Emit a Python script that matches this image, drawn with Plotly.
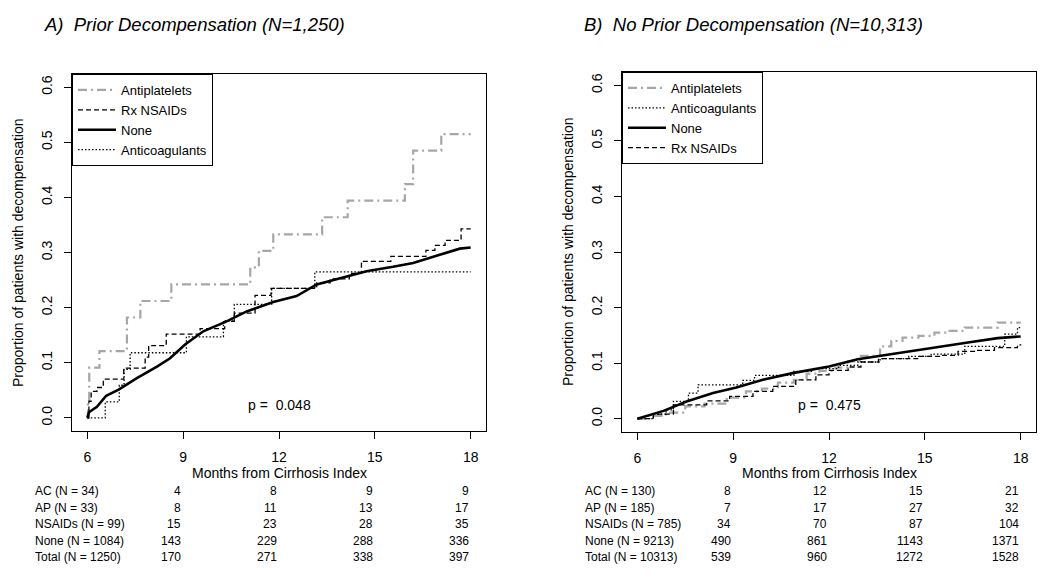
import plotly.graph_objects as go

# ---------------- data ----------------
months_ticks = [6, 9, 12, 15, 18]
y_ticks = [0.0, 0.1, 0.2, 0.3, 0.4, 0.5, 0.6]
y_ticktext = ["0.0", "0.1", "0.2", "0.3", "0.4", "0.5", "0.6"]

# Panel A: Prior decompensation
A_ap_t = [6.0, 6.02, 6.06, 6.38, 7.24, 7.66, 8.63, 11.1, 11.37, 11.82, 13.35, 14.15, 15.94, 16.2, 17.08, 18.0]
A_ap_v = [0.0, 0.03, 0.091, 0.121, 0.182, 0.212, 0.242, 0.273, 0.303, 0.333, 0.364, 0.394, 0.424, 0.485, 0.515, 0.515]

A_nsaid_t = [6.0, 6.05, 6.12, 6.3, 6.5, 7.14, 7.81, 7.92, 8.47, 9.53, 10.3, 10.6, 11.25, 11.75, 13.18, 13.6, 14.2, 14.58, 15.5, 16.6, 16.88, 17.2, 17.7, 18.0]
A_nsaid_v = [0.0, 0.03, 0.048, 0.055, 0.07, 0.09, 0.11, 0.131, 0.152, 0.162, 0.175, 0.19, 0.222, 0.235, 0.245, 0.252, 0.262, 0.284, 0.293, 0.304, 0.313, 0.322, 0.343, 0.343]

A_none_t = [6.0, 6.05, 6.3, 6.59, 6.98, 7.55, 8.18, 8.59, 9.06, 9.63, 10.36, 10.99, 11.82, 12.55, 13.18, 14.0, 14.74, 15.57, 16.2, 16.93, 17.66, 18.0]
A_none_v = [0.0, 0.01, 0.02, 0.04, 0.051, 0.072, 0.093, 0.108, 0.133, 0.157, 0.175, 0.193, 0.210, 0.221, 0.242, 0.254, 0.266, 0.274, 0.281, 0.294, 0.307, 0.309]

A_ac_t = [6.0, 6.56, 7.0, 7.15, 7.34, 9.1, 10.26, 10.6, 11.77, 13.12, 18.0]
A_ac_v = [0.0, 0.029, 0.059, 0.088, 0.118, 0.147, 0.176, 0.206, 0.235, 0.265, 0.265]

# Panel B: No prior decompensation
B_ap_t = [6.0, 6.3, 6.9, 7.5, 8.1, 8.8, 9.4, 9.9, 10.4, 10.9, 11.3, 11.7, 12.2, 12.6, 13.0, 13.6, 13.95, 14.3, 14.8, 15.3, 15.7, 16.25, 17.28, 18.0]
B_ap_v = [0.0, 0.005, 0.011, 0.022, 0.027, 0.038, 0.049, 0.054, 0.065, 0.070, 0.081, 0.086, 0.092, 0.103, 0.113, 0.130, 0.140, 0.146, 0.149, 0.155, 0.158, 0.164, 0.173, 0.173]

B_ac_t = [6.0, 6.5, 6.9, 7.13, 7.6, 7.9, 9.3, 9.67, 10.9, 11.5, 12.3, 12.9, 13.6, 14.5, 15.2, 16.25, 17.5, 17.9, 18.0]
B_ac_v = [0.0, 0.008, 0.016, 0.031, 0.046, 0.061, 0.069, 0.078, 0.085, 0.090, 0.096, 0.102, 0.108, 0.112, 0.116, 0.130, 0.152, 0.164, 0.164]

B_none_t = [6.0, 6.82, 7.54, 8.37, 9.1, 9.93, 10.86, 12.0, 12.9, 13.86, 15.0, 16.35, 17.28, 18.0]
B_none_v = [0.0, 0.014, 0.031, 0.046, 0.056, 0.070, 0.082, 0.094, 0.107, 0.115, 0.125, 0.137, 0.145, 0.148]

B_nsaid_t = [6.0, 6.5, 7.13, 8.17, 8.89, 9.62, 10.24, 10.96, 11.59, 12.0, 12.6, 13.0, 13.55, 14.8, 15.5, 16.04, 16.6, 17.18, 17.9, 18.0]
B_nsaid_v = [0.0, 0.008, 0.025, 0.032, 0.040, 0.049, 0.058, 0.070, 0.079, 0.087, 0.093, 0.102, 0.108, 0.112, 0.114, 0.121, 0.123, 0.128, 0.133, 0.134]

# risk tables (cumulative events at 9, 12, 15, 18 months)
risk_times = [9, 12, 15, 18]
A_risk_labels = ["AC (N = 34)", "AP (N = 33)", "NSAIDs (N = 99)", "None (N = 1084)", "Total (N = 1250)"]
A_risk_values = [[4, 8, 9, 9], [8, 11, 13, 17], [15, 23, 28, 35], [143, 229, 288, 336], [170, 271, 338, 397]]
B_risk_labels = ["AC (N = 130)", "AP (N = 185)", "NSAIDs (N = 785)", "None (N = 9213)", "Total (N = 10313)"]
B_risk_values = [[8, 12, 15, 21], [7, 17, 27, 32], [34, 70, 87, 104], [490, 861, 1143, 1371], [539, 960, 1272, 1528]]

p_values = ["p =  0.048", "p =  0.475"]
titles = ["A)  Prior Decompensation (N=1,250)", "B)  No Prior Decompensation (N=10,313)"]

# ---------------- styling ----------------
FONT = "Liberation Sans, Arial, sans-serif"
OFF = 8                     # page body margin of the html page
W, H = 1050 - OFF, 585 - OFF

def px(xw):                 # window x pixel -> paper fraction
    return (xw - OFF) / W

def py(yw):                 # window y pixel -> paper fraction
    return 1 - (yw - OFF) / H

STY = {
    "Antiplatelets": dict(color="#a6a6a6", width=2.2, dash="9px,4px,2px,4px"),
    "Rx NSAIDs": dict(color="black", width=1.3, dash="5px,3px"),
    "None": dict(color="black", width=2.6, dash="solid"),
    "Anticoagulants": dict(color="black", width=1.3, dash="1.5px,2px"),
}
SHAPE = {"Antiplatelets": "hv", "Rx NSAIDs": "hv", "None": "linear", "Anticoagulants": "hv"}

fig = go.Figure()

panelA = [("Antiplatelets", A_ap_t, A_ap_v), ("Rx NSAIDs", A_nsaid_t, A_nsaid_v),
          ("None", A_none_t, A_none_v), ("Anticoagulants", A_ac_t, A_ac_v)]
panelB = [("Antiplatelets", B_ap_t, B_ap_v), ("Anticoagulants", B_ac_t, B_ac_v),
          ("None", B_none_t, B_none_v), ("Rx NSAIDs", B_nsaid_t, B_nsaid_v)]

for name, t, v in panelA:
    fig.add_trace(go.Scatter(x=t, y=v, mode="lines", name=name, line=STY[name],
                             line_shape=SHAPE[name], xaxis="x", yaxis="y", legend="legend"))
for name, t, v in panelB:
    fig.add_trace(go.Scatter(x=t, y=v, mode="lines", name=name, line=STY[name],
                             line_shape=SHAPE[name], xaxis="x2", yaxis="y2", legend="legend2"))

boxes = {
    "A": dict(l=72, r=486, t=74, b=431),
    "B": dict(l=622, r=1036, t=72, b=432),
}

def xdom(b):
    return [px(b["l"]), px(b["r"])]

def ydom(b):
    return [py(b["b"]), py(b["t"])]

axis_common = dict(showgrid=False, zeroline=False, showline=True, mirror=True,
                   linecolor="black", linewidth=1, ticks="outside", ticklen=7,
                   tickcolor="black", tickwidth=1,
                   tickfont=dict(family=FONT, size=14, color="black"))

legend_common = dict(xanchor="left", yanchor="top", bordercolor="black", borderwidth=1,
                     bgcolor="white", font=dict(family=FONT, size=13, color="black"),
                     tracegroupgap=0, itemwidth=38)

fig.update_layout(
    width=W, height=H, margin=dict(l=0, r=0, t=0, b=0),
    paper_bgcolor="white", plot_bgcolor="white",
    font=dict(family=FONT, color="black"),
    xaxis=dict(domain=xdom(boxes["A"]), range=[5.52, 18.48], tickvals=months_ticks,
               ticklabelstandoff=6, anchor="y", **axis_common),
    yaxis=dict(domain=ydom(boxes["A"]), range=[-0.024, 0.624], tickvals=y_ticks,
               ticktext=y_ticktext, tickangle=-90, ticklabelstandoff=6, anchor="x", **axis_common),
    xaxis2=dict(domain=xdom(boxes["B"]), range=[5.52, 18.48], tickvals=months_ticks,
                ticklabelstandoff=6, anchor="y2", **axis_common),
    yaxis2=dict(domain=ydom(boxes["B"]), range=[-0.024, 0.624], tickvals=y_ticks,
                ticktext=y_ticktext, tickangle=-90, ticklabelstandoff=6, anchor="x2", **axis_common),
    legend=dict(x=px(boxes["A"]["l"]), y=py(boxes["A"]["t"]), **legend_common),
    legend2=dict(x=px(boxes["B"]["l"]), y=py(boxes["B"]["t"]), **legend_common),
    showlegend=True,
)

ann = []
# panel titles
for txt, xw in [(titles[0], 42), (titles[1], 582)]:
    ann.append(dict(text="<i>" + txt + "</i>", x=px(xw), y=py(25), xref="paper", yref="paper",
                    xanchor="left", yanchor="middle", showarrow=False,
                    font=dict(family=FONT, size=18.5, color="black")))

for key, xa, ytitle_x, lab_x, labels, values, pv in [
        ("A", "x", 17.5, 33, A_risk_labels, A_risk_values, p_values[0]),
        ("B", "x2", 568, 583, B_risk_labels, B_risk_values, p_values[1])]:
    b = boxes[key]
    ya = "y" if xa == "x" else "y2"
    # y-axis title
    ann.append(dict(text="Proportion of patients with decompensation", textangle=-90,
                    x=px(ytitle_x), y=py((b["t"] + b["b"]) / 2), xref="paper", yref="paper",
                    xanchor="center", yanchor="middle", showarrow=False,
                    font=dict(family=FONT, size=14, color="black")))
    # x-axis title
    ann.append(dict(text="Months from Cirrhosis Index", x=12, y=py(473), xref=xa, yref="paper",
                    xanchor="center", yanchor="middle", showarrow=False,
                    font=dict(family=FONT, size=14, color="black")))
    # p-value
    ann.append(dict(text=pv, x=12, y=0.024, xref=xa, yref=ya, xanchor="center", yanchor="middle",
                    showarrow=False, font=dict(family=FONT, size=14, color="black")))
    # risk table
    row_y = [491, 507.5, 524, 541, 557]
    for i, lab in enumerate(labels):
        ann.append(dict(text=lab, x=px(lab_x), y=py(row_y[i]), xref="paper", yref="paper",
                        xanchor="left", yanchor="middle", showarrow=False,
                        font=dict(family=FONT, size=12, color="black")))
        for j, tm in enumerate(risk_times):
            ann.append(dict(text=str(values[i][j]), x=tm, y=py(row_y[i]), xref=xa, yref="paper",
                            xanchor="right", yanchor="middle", showarrow=False,
                            font=dict(family=FONT, size=12, color="black")))

fig.update_layout(annotations=ann)
fig.write_html("out.html")
